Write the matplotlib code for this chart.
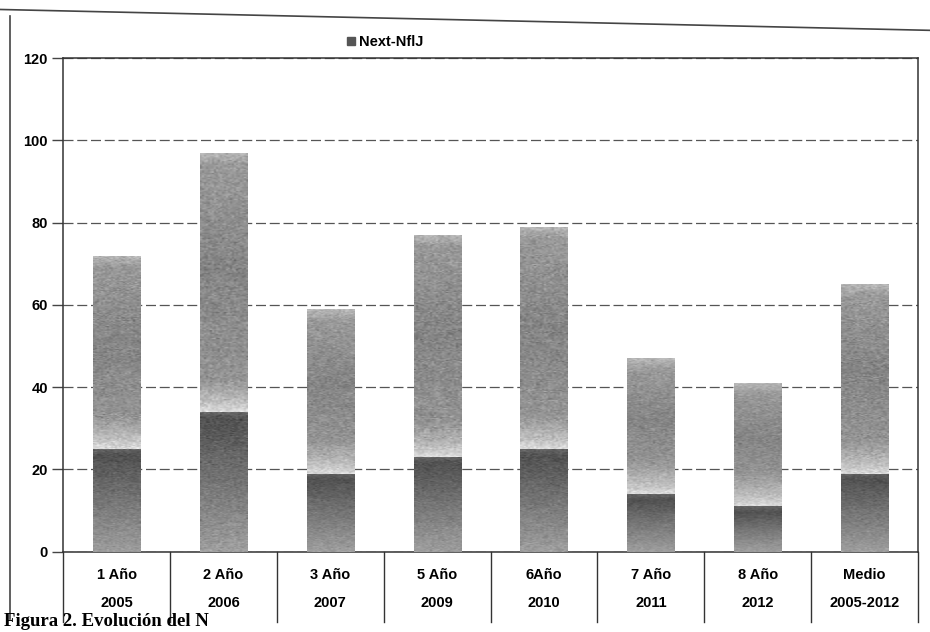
import numpy as np
import matplotlib
matplotlib.use("Agg")
import matplotlib.pyplot as plt
from matplotlib.lines import Line2D

plt.rcParams['font.family'] = ['Liberation Sans', 'DejaVu Sans']
plt.rcParams['font.weight'] = 'bold'

# datos por periodo
anios = ["1 Año", "2 Año", "3 Año", "5 Año", "6Año", "7 Año", "8 Año", "Medio"]
periodos = ["2005", "2006", "2007", "2009", "2010", "2011", "2012", "2005-2012"]
totales = [72, 97, 59, 77, 79, 47, 41, 65]
base = [25, 34, 19, 23, 25, 14, 11, 19]
resto = [t - b for t, b in zip(totales, base)]

fig = plt.figure(figsize=(9.3, 6.32), dpi=100)
ax = fig.add_axes([0.068, 0.127, 0.919, 0.781])

x = np.arange(len(anios))
ancho = 0.44

barras_base = ax.bar(x, base, width=ancho, color='#6a6a6a', label='_nolegend_', zorder=3)
barras_resto = ax.bar(x, resto, bottom=base, width=ancho, color='#9a9a9a',
                      label='Next-NflJ', zorder=3)

rng = np.random.default_rng(7)


def sombrear(rect, alturas, grises):
    x0, y0 = rect.get_x(), rect.get_y()
    w, h = rect.get_width(), rect.get_height()
    filas = 200
    ys = np.linspace(0, h, filas)
    col = np.interp(ys, alturas(h), grises)
    img = np.tile(col[:, None], (1, 24))
    img = img + rng.normal(0, 0.045, img.shape)
    img = np.clip(img, 0, 1)
    im = ax.imshow(img, cmap='gray', vmin=0, vmax=1, origin='lower',
                   extent=[x0, x0 + w, y0, y0 + h], aspect='auto',
                   interpolation='bilinear', zorder=4)
    im.set_clip_path(rect)
    rect.set_facecolor('none')


for r in barras_base:
    sombrear(r, lambda h: [0, h * 0.5, h - 1.5, h], [0.62, 0.46, 0.32, 0.40])
for r in barras_resto:
    sombrear(r, lambda h: [0, 2.5, 8, h * 0.55, h - 3, h],
             [0.86, 0.74, 0.58, 0.52, 0.60, 0.72])

ax.set_xlim(-0.5, 7.5)
ax.set_ylim(0, 120)
ax.set_yticks(range(0, 121, 20))
ax.tick_params(axis='y', length=8, width=1, color='#444444', labelsize=10.5, pad=3)
ax.tick_params(axis='x', length=0, labelbottom=False)
for lab in ax.get_yticklabels():
    lab.set_fontweight('bold')

ax.yaxis.grid(True, linestyle=(0, (8, 3)), color='#555555', linewidth=0.9, zorder=1)
for s in ax.spines.values():
    s.set_color('#333333')
    s.set_linewidth(1.1)

# tabla de categorías bajo el eje
trans = matplotlib.transforms.blended_transform_factory(ax.transData, ax.transAxes)
for k in range(len(anios) + 1):
    ax.plot([k - 0.5, k - 0.5], [0, -0.142], transform=trans, color='#333333',
            linewidth=1, clip_on=False)
for xi, a, p in zip(x, anios, periodos):
    ax.text(xi, -0.047, a, transform=trans, ha='center', va='center',
            fontsize=10.5, fontweight='bold')
    ax.text(xi, -0.103, p, transform=trans, ha='center', va='center',
            fontsize=10.5, fontweight='bold')

# leyenda
marca = Line2D([], [], marker='s', color='none', markerfacecolor='#555555',
               markeredgecolor='#555555', markersize=5.5)
fig.legend([marca], ['Next-NflJ'], loc='center', bbox_to_anchor=(0.414, 0.934),
           frameon=False, handlelength=0.6, handletextpad=0.3,
           prop={'weight': 'bold', 'size': 10.5})

# marco exterior
fig.add_artist(Line2D([0.011, 0.011], [0.02, 0.975], color='#444444', linewidth=1.2))
fig.add_artist(Line2D([0.0, 1.0], [0.985, 0.952], color='#444444', linewidth=1.2))

fig.text(0.004, 0.003, "Figura 2. Evolución del N", family=['Liberation Serif', 'DejaVu Serif'],
         fontsize=13.5, fontweight='bold', va='bottom', ha='left')

fig.savefig("out.png", dpi=100, facecolor='white')
